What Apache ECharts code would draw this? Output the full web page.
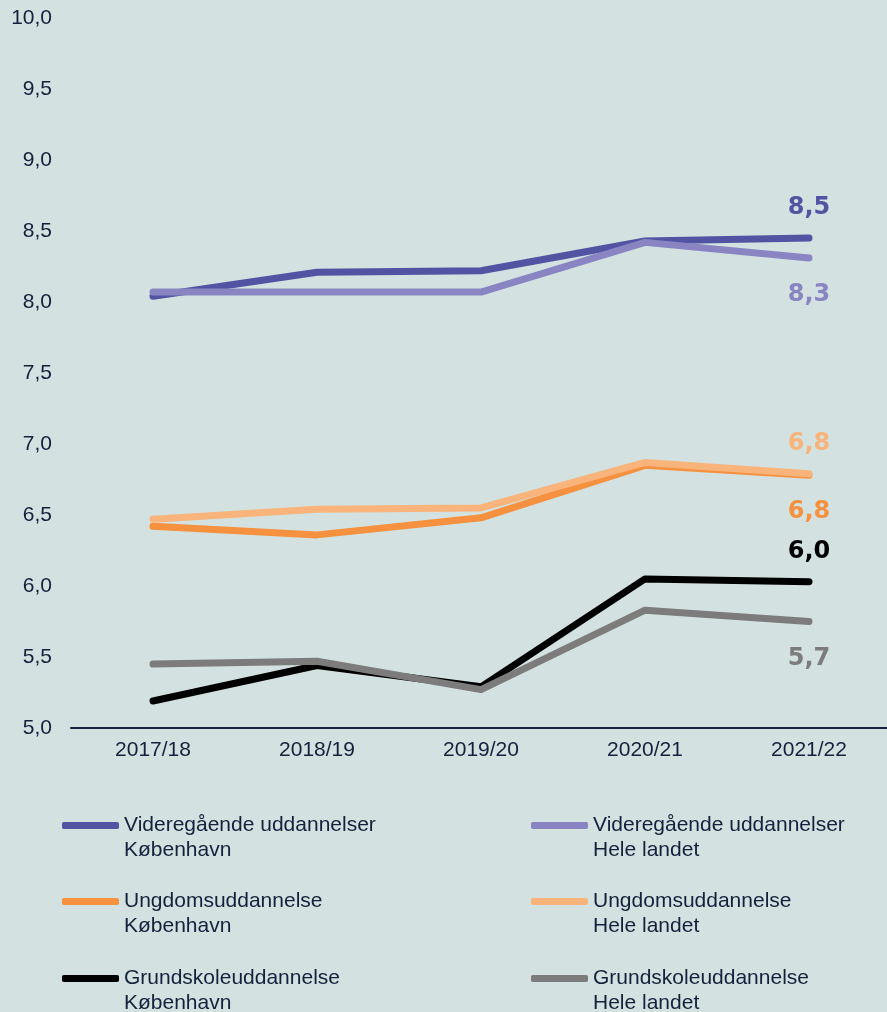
<!DOCTYPE html>
<html>
<head>
<meta charset="utf-8">
<script src="https://cdn.jsdelivr.net/npm/echarts@6/dist/echarts.min.js"></script>
<style>
html,body{margin:0;padding:0;background:#d3e2e0;}
#c{width:887px;height:1012px;}
</style>
</head>
<body>
<div id="c"></div>
<script>
const categories = ['2017/18', '2018/19', '2019/20', '2020/21', '2021/22'];
const vidKbh = [8.04, 8.21, 8.22, 8.43, 8.45];
const vidLand = [8.07, 8.07, 8.07, 8.42, 8.31];
const ungKbh = [6.42, 6.36, 6.48, 6.85, 6.78];
const ungLand = [6.47, 6.54, 6.55, 6.87, 6.79];
const grundKbh = [5.19, 5.44, 5.29, 6.05, 6.03];
const grundLand = [5.45, 5.47, 5.27, 5.83, 5.75];
const seriesNames = [
  'Videregående uddannelser\nKøbenhavn',
  'Videregående uddannelser\nHele landet',
  'Ungdomsuddannelse\nKøbenhavn',
  'Ungdomsuddannelse\nHele landet',
  'Grundskoleuddannelse\nKøbenhavn',
  'Grundskoleuddannelse\nHele landet'
];
const endLabels = ['8,5', '8,3', '6,8', '6,8', '6,0', '5,7'];
const yMin = 5, yMax = 10, yStep = 0.5;

const colors = ['#5253a2', '#8985c2', '#f5913f', '#f8b47b', '#000000', '#7c7c7c'];
const labelPos = ['top', 'bottom', 'bottom', 'top', 'top', 'bottom'];
const allData = [vidKbh, vidLand, ungKbh, ungLand, grundKbh, grundLand];
const drawOrder = [0, 1, 2, 3, 4, 5];

const series = drawOrder.map(i => ({
  name: seriesNames[i],
  type: 'line',
  data: allData[i].map((v, j) => j === allData[i].length - 1 ? {
    value: v,
    label: {
      show: true,
      formatter: endLabels[i],
      position: labelPos[i],
      distance: labelPos[i] === 'top' ? 18 : 25,
      color: colors[i],
      fontFamily: 'DejaVu Sans',
      fontWeight: 'bold',
      fontSize: 24
    }
  } : v),
  showSymbol: true,
  symbol: 'circle',
  symbolSize: 0,
  lineStyle: { width: 7, color: colors[i], cap: 'round', join: 'round' },
  itemStyle: { color: colors[i] },
  z: 2 + i,
  emphasis: { disabled: true },
  silent: true
}));

const legendPos = [
  [62, 788], [531, 788],
  [62, 864], [531, 864],
  [62, 941], [531, 941]
];
const legendOrder = [0, 1, 2, 3, 4, 5];
const legends = legendOrder.map((i, k) => ({
  data: [{ name: seriesNames[i], icon: 'roundRect' }],
  left: legendPos[k][0],
  top: legendPos[k][1],
  padding: 0,
  itemWidth: 57,
  itemHeight: 7,
  selectedMode: false,
  formatter: n => '\n' + n,
  textStyle: {
    fontFamily: 'Liberation Sans',
    fontSize: 21,
    lineHeight: 25,
    color: '#14203c'
  }
}));

const chart = echarts.init(document.getElementById('c'), null, { renderer: 'canvas' });
chart.setOption({
  backgroundColor: '#d3e2e0',
  animation: false,
  grid: { left: 71, top: 18, width: 820, height: 710, containLabel: false, outerBoundsMode: 'none' },
  legend: legends,
  xAxis: {
    type: 'category',
    data: categories,
    boundaryGap: true,
    axisLine: { lineStyle: { color: '#14203c', width: 2 } },
    axisTick: { show: false },
    axisLabel: { color: '#14203c', fontFamily: 'Liberation Sans', fontSize: 21, margin: 12 }
  },
  yAxis: {
    type: 'value',
    min: yMin,
    max: yMax,
    interval: yStep,
    axisLine: { show: false },
    axisTick: { show: false },
    splitLine: { show: false },
    axisLabel: {
      color: '#14203c',
      fontFamily: 'Liberation Sans',
      fontSize: 21,
      margin: 19,
      formatter: v => v.toFixed(1).replace('.', ',')
    }
  },
  series: series
});
</script>
</body>
</html>
